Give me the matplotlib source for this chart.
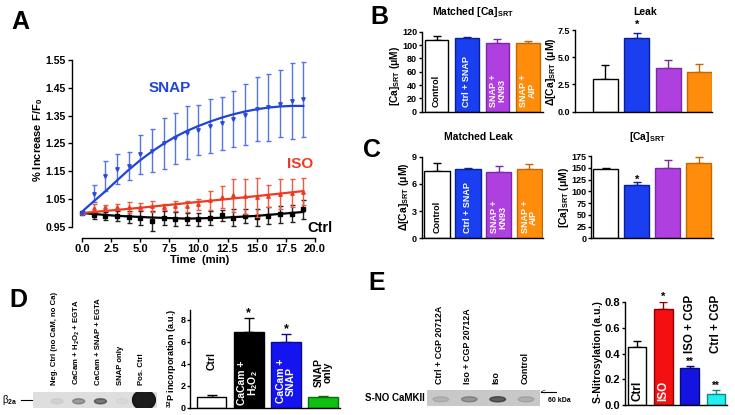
import numpy as np
import matplotlib
matplotlib.use("Agg")
import matplotlib.pyplot as plt
from matplotlib.patches import Ellipse

# ---- panel A: fluorescence vs time ----
time_min = [0, 1, 2, 3, 4, 5, 6, 7, 8, 9, 10, 11, 12, 13, 14, 15, 16, 17, 18, 19]
snap_mean = [1.00, 1.070, 1.133, 1.158, 1.170, 1.211, 1.224, 1.250, 1.268, 1.289,
             1.298, 1.313, 1.322, 1.338, 1.353, 1.375, 1.380, 1.393, 1.402, 1.409]
snap_err = [0.005, 0.030, 0.055, 0.055, 0.050, 0.070, 0.078, 0.090, 0.090, 0.095,
            0.090, 0.097, 0.095, 0.100, 0.110, 0.115, 0.120, 0.120, 0.137, 0.135]
snap_fit = [1.005, 1.042, 1.078, 1.117, 1.155, 1.190, 1.221, 1.249, 1.274, 1.295,
            1.313, 1.329, 1.343, 1.355, 1.365, 1.373, 1.379, 1.383, 1.385, 1.385]
iso_mean = [1.0, 1.017, 1.020, 1.022, 1.020, 1.023, 1.024, 1.022, 1.024, 1.025,
            1.032, 1.046, 1.058, 1.064, 1.060, 1.057, 1.062, 1.068, 1.072, 1.077]
iso_err = [0.005, 0.014, 0.010, 0.012, 0.020, 0.012, 0.020, 0.010, 0.018, 0.020,
           0.020, 0.035, 0.040, 0.060, 0.062, 0.070, 0.040, 0.054, 0.050, 0.049]
iso_fit_t = [0, 5, 10, 15, 19]
iso_fit = [1.0, 1.019, 1.040, 1.061, 1.079]
ctrl_mean = [1.0, 0.992, 0.990, 0.988, 0.986, 0.982, 0.972, 0.982, 0.980, 0.980,
             0.977, 0.982, 0.992, 0.983, 0.990, 0.985, 0.990, 0.996, 0.998, 1.013]
ctrl_err = [0.005, 0.012, 0.015, 0.018, 0.020, 0.025, 0.035, 0.025, 0.025, 0.022,
            0.025, 0.025, 0.020, 0.030, 0.025, 0.030, 0.030, 0.030, 0.030, 0.033]
ctrl_fit_t = [0, 3, 6, 9, 12, 15, 19]
ctrl_fit = [1.0, 0.990, 0.984, 0.980, 0.983, 0.990, 1.004]

# ---- panels B, C ----
bc_groups = ["Control", "Ctrl + SNAP", "SNAP +\nKN93", "SNAP +\nAIP"]
b_matched_ca = [107, 110, 103.5, 103]
b_matched_ca_err = [6, 2, 5, 3.5]
b_leak = [3.03, 6.79, 3.98, 3.64]
b_leak_err = [1.3, 0.45, 0.75, 0.7]
c_matched_leak = [7.42, 7.64, 7.35, 7.64]
c_matched_leak_err = [0.85, 0.1, 0.65, 0.55]
c_ca = [146.5, 113, 150, 159.5]
c_ca_err = [2.3, 7.4, 16, 14]

# ---- panel D ----
d_lanes = ["Neg. Ctrl (no CaM, no Ca)", "CaCam + H$_2$O$_2$ + EGTA",
           "CaCam + SNAP + EGTA", "SNAP only", "Pos. Ctrl"]
d_band = [0.06, 0.35, 0.55, 0.03, 1.0]
d_groups = ["Ctrl", "CaCam +\nH$_2$O$_2$", "CaCam +\nSNAP", "SNAP\nonly"]
d_p32 = [1.02, 6.88, 5.97, 0.95]
d_p32_err = [0.1, 1.28, 0.73, 0.1]

# ---- panel E ----
e_lanes = ["Ctrl + CGP 20712A", "Iso + CGP 20712A", "Iso", "Control"]
e_band = [0.12, 0.3, 0.65, 0.15]
e_groups = ["Ctrl", "ISO", "ISO + CGP", "Ctrl + CGP"]
e_sno = [0.455, 0.745, 0.285, 0.085]
e_sno_err = [0.045, 0.055, 0.02, 0.03]

plt.rcParams.update({
    "font.family": "Liberation Sans", "font.weight": "bold", "font.size": 7,
    "axes.labelweight": "bold",
    "mathtext.fontset": "custom", "mathtext.rm": "Liberation Sans:bold",
    "mathtext.it": "Liberation Sans:bold", "mathtext.bf": "Liberation Sans:bold",
    "mathtext.default": "rm",
    "axes.linewidth": 1.0, "xtick.major.width": 1.0, "ytick.major.width": 1.0,
    "xtick.major.size": 3, "ytick.major.size": 3,
})

W, H = 735, 415
fig = plt.figure(figsize=(W / 100, H / 100), dpi=100)


def px_axes(x0, y0, x1, y1):
    return fig.add_axes([x0 / W, 1 - y1 / H, (x1 - x0) / W, (y1 - y0) / H])


def px_text(x, y, s, **kw):
    kw.setdefault("ha", "center")
    kw.setdefault("va", "center")
    return fig.text(x / W, 1 - y / H, s, **kw)


# ===================== A =====================
axA = px_axes(72, 57, 318, 238)
axA.set_xlim(-0.86, 20.26)
axA.set_ylim(0.9104, 1.5608)
for s in ["top", "right"]:
    axA.spines[s].set_visible(False)
axA.spines["left"].set_bounds(0.95, 1.55)
axA.spines["bottom"].set_bounds(0, 20)
xt = [0, 2.5, 5, 7.5, 10, 12.5, 15, 17.5, 20]
axA.set_xticks(xt)
axA.set_xticklabels([f"{v:.1f}" for v in xt], fontsize=8)
yt = [0.95, 1.05, 1.15, 1.25, 1.35, 1.45, 1.55]
axA.set_yticks(yt)
axA.set_yticklabels([f"{v:.2f}" for v in yt], fontsize=7.5)
axA.tick_params(axis="x", pad=1.5)
axA.tick_params(axis="y", pad=1.5)

axA.errorbar(time_min, ctrl_mean, yerr=ctrl_err, fmt="s", ms=2.5, color="black",
             ecolor="#222222", elinewidth=1, capsize=1.8, capthick=1, zorder=2)
axA.plot(ctrl_fit_t, ctrl_fit, color="black", lw=1.6, zorder=2)
axA.errorbar(time_min, iso_mean, yerr=iso_err, fmt="^", ms=2.5, color="#ee3a22",
             ecolor="#f05a40", elinewidth=1, capsize=1.8, capthick=1, zorder=3)
axA.plot(iso_fit_t, iso_fit, color="#ee3a22", lw=1.6, zorder=3)
axA.errorbar(time_min, snap_mean, yerr=snap_err, fmt="v", ms=2.5, color="#2a4bd8",
             ecolor="#5575e0", elinewidth=1, capsize=1.8, capthick=1, zorder=4)
axA.plot(time_min, snap_fit, color="#1f44d6", lw=1.6, zorder=4)

axA.text(7.55, 1.449, "SNAP", color="#2244d8", fontsize=11, ha="center", va="center")
axA.text(18.7, 1.176, "ISO", color="#ee3a22", fontsize=11, ha="center", va="center")
axA.text(20.4, 0.948, "Ctrl", color="black", fontsize=10.5, ha="center", va="center",
         clip_on=False)
px_text(38, 140, "% Increase F/F$_0$", rotation=90, fontsize=8)
px_text(200, 260, "Time  (min)", fontsize=8)
px_text(20, 22, "A", fontsize=18)


# ===================== bar helper =====================
def bar_panel(ax, vals, errs, colors, edges, xlim, ylim, yticks, ylabels,
              capsize=3.2, width=0.78, tick_fs=6.5):
    x = np.arange(len(vals))
    ax.bar(x, vals, width, color=colors, edgecolor=edges, linewidth=1, zorder=2)
    for xi, v, e, ec in zip(x, vals, errs, edges):
        ax.errorbar([xi], [v], yerr=[[0], [e]], fmt="none", ecolor=ec,
                    elinewidth=1, capsize=capsize, capthick=1, zorder=1)
    ax.set_xlim(*xlim)
    ax.set_ylim(*ylim)
    for s in ["top", "right"]:
        ax.spines[s].set_visible(False)
    ax.set_xticks([])
    ax.set_yticks(yticks)
    ax.set_yticklabels(ylabels, fontsize=tick_fs)
    ax.tick_params(axis="y", pad=0.8, length=2.5)
    return x


bc_colors = ["white", "#1a3ff0", "#b03fe0", "#ff8c0a"]
bc_edges = ["black", "#0b1f9a", "#7a2aa8", "#c46800"]

# ===================== B =====================
axB1 = px_axes(421.7, 31.7, 543, 111.7)
xb = bar_panel(axB1, b_matched_ca, b_matched_ca_err, bc_colors, bc_edges,
               (-0.49, 3.5), (0, 120), range(0, 121, 20),
               [str(v) for v in range(0, 121, 20)], width=0.77)
for i, lab in enumerate(bc_groups):
    axB1.text(xb[i], 7, lab, rotation=90, ha="center", va="bottom", fontsize=6.5,
              color="black" if i == 0 else "white", linespacing=0.95, zorder=3)
px_text(395, 76, "[Ca]$_{SRT}$ (μM)", rotation=90, fontsize=7.3)
px_text(473, 12, "Matched [Ca]$_{SRT}$", fontsize=7.5)

axB2 = px_axes(575, 30, 712, 111.7)
xb = bar_panel(axB2, b_leak, b_leak_err, bc_colors, bc_edges, (-0.97, 3.4),
               (0, 7.5), [0, 2.5, 5, 7.5], ["0.0", "2.5", "5.0", "7.5"], width=0.8)
axB2.text(xb[1], 7.55, "*", ha="center", va="bottom", fontsize=8, clip_on=False)
px_text(551, 72, "Δ[Ca]$_{SRT}$ (μM)", rotation=90, fontsize=7.5)
px_text(645, 12, "Leak", fontsize=7.5)
px_text(379, 17, "B", fontsize=18)

# ===================== C =====================
axC1 = px_axes(421.7, 156.7, 543, 238.3)
xc = bar_panel(axC1, c_matched_leak, c_matched_leak_err, bc_colors, bc_edges,
               (-0.5, 3.44), (0, 9), [0, 3, 6, 9], ["0", "3", "6", "9"], width=0.83)
for i, lab in enumerate(bc_groups):
    axC1.text(xc[i], 0.55, lab, rotation=90, ha="center", va="bottom", fontsize=6.5,
              color="black" if i == 0 else "white", linespacing=0.95, zorder=3)
px_text(404, 197, "Δ[Ca]$_{SRT}$ (μM)", rotation=90, fontsize=7.5)
px_text(478, 137, "Matched Leak", fontsize=7.5)

axC2 = px_axes(591, 156, 713, 238.3)
xc = bar_panel(axC2, c_ca, c_ca_err, bc_colors, bc_edges, (-0.48, 3.46),
               (0, 175), range(0, 176, 25), [str(v) for v in range(0, 176, 25)],
               width=0.81)
axC2.text(xc[1], 114, "*", ha="center", va="bottom", fontsize=8)
px_text(564, 197, "[Ca]$_{SRT}$ (μM)", rotation=90, fontsize=7.5)
px_text(647, 137, "[Ca]$_{SRT}$", fontsize=7.5)
px_text(372, 150, "C", fontsize=18)


# ===================== blots =====================
def blot(ax, bands, xlim, face, wide_last=False):
    ax.set_xlim(*xlim)
    ax.set_ylim(0, 1)
    ax.set_facecolor(face)
    ax.set_xticks([])
    ax.set_yticks([])
    for s in ax.spines.values():
        s.set_visible(False)
    for i, b in enumerate(bands):
        if wide_last and i == len(bands) - 1:
            ax.add_patch(Ellipse((i, 0.5), 1.05, 1.25, color="#111111", alpha=0.95))
        else:
            ax.add_patch(Ellipse((i, 0.42), 0.55, 0.32, color="#222222", alpha=b))


axDb = px_axes(33, 392, 157, 408)
blot(axDb, d_band, (-1.1, 4.6), "#dedede", wide_last=True)
for i, lab in enumerate(d_lanes):
    axDb.text(i - 0.1, 1.45, lab, rotation=90, ha="center", va="bottom", fontsize=5.6,
              clip_on=False)
axDb.plot([-0.1, -0.01], [0.5, 0.5], color="black", lw=0.8, transform=axDb.transAxes,
          clip_on=False)
px_text(10, 400, "β$_{2a}$", fontsize=7, fontweight="normal")

axEb = px_axes(427, 390, 540, 406)
blot(axEb, e_band, (-0.49, 3.49), "#c8c8c8")
for i, lab in enumerate(e_lanes):
    axEb.text(i - 0.05, 1.35, lab, rotation=90, ha="center", va="bottom", fontsize=6.4,
              clip_on=False)
px_text(425, 398, "S-NO CaMKII", fontsize=7, ha="right")
fig.add_artist(plt.Line2D([541 / W, 556 / W], [1 - 392 / H, 1 - 392 / H],
                          color="black", lw=0.8))
px_text(541, 392, "<", fontsize=6, ha="left", fontweight="normal")
px_text(548, 400, "60 kDa", fontsize=5, ha="left")

# ===================== D bars =====================
axD = px_axes(190, 310, 340, 407.7)
xd = bar_panel(axD, d_p32, d_p32_err, ["white", "black", "#1414f0", "#10c010"],
               ["black", "black", "#0a0a90", "#087008"], (-0.58, 3.45), (0, 8.9),
               [0, 2, 4, 6, 8], ["0", "2", "4", "6", "8"], capsize=3.5, width=0.8,
               tick_fs=6.5)
axD.text(xd[0], 3.4, d_groups[0], rotation=90, ha="center", va="bottom", fontsize=7.5)
axD.text(xd[1], 0.25, d_groups[1], rotation=90, ha="center", va="bottom", fontsize=7.5,
         color="white", linespacing=0.95, zorder=3)
axD.text(xd[2], 0.4, d_groups[2], rotation=90, ha="center", va="bottom", fontsize=7.5,
         color="white", linespacing=0.95, zorder=3)
axD.text(xd[3], 1.9, d_groups[3], rotation=90, ha="center", va="bottom", fontsize=7.5,
         linespacing=0.95)
axD.text(xd[1], 8.1, "*", ha="center", va="bottom", fontsize=9, clip_on=False)
axD.text(xd[2], 6.6, "*", ha="center", va="bottom", fontsize=9)
px_text(172, 358, "$^{32}$P incorporation (a.u.)", rotation=90, fontsize=6.5)
px_text(18, 300, "D", fontsize=18)

# ===================== E bars =====================
axE = px_axes(625, 302.3, 727, 405)
xe = bar_panel(axE, e_sno, e_sno_err, ["white", "#f41010", "#1414e0", "#22f0f0"],
               ["black", "#900000", "#0a0a80", "#108888"], (-0.46, 3.42), (0, 0.8),
               [0, 0.2, 0.4, 0.6, 0.8], ["0.0", "0.2", "0.4", "0.6", "0.8"],
               capsize=3.0, width=0.7, tick_fs=8)
axE.text(xe[0], 0.03, e_groups[0], rotation=90, ha="center", va="bottom", fontsize=8.5,
         zorder=3)
axE.text(xe[1], 0.03, e_groups[1], rotation=90, ha="center", va="bottom", fontsize=8.5,
         color="white", zorder=3)
axE.text(xe[2], 0.405, e_groups[2], rotation=90, ha="center", va="bottom", fontsize=8.3)
axE.text(xe[3], 0.405, e_groups[3], rotation=90, ha="center", va="bottom", fontsize=8.3)
axE.text(xe[1], 0.80, "*", ha="center", va="bottom", fontsize=8, clip_on=False)
axE.text(xe[2], 0.30, "**", ha="center", va="bottom", fontsize=7)
axE.text(xe[3], 0.112, "**", ha="center", va="bottom", fontsize=7)
px_text(598, 352, "S-Nitrosylation (a.u.)", rotation=90, fontsize=7.5)
px_text(377, 283, "E", fontsize=18)

fig.savefig("out.png", dpi=100)
